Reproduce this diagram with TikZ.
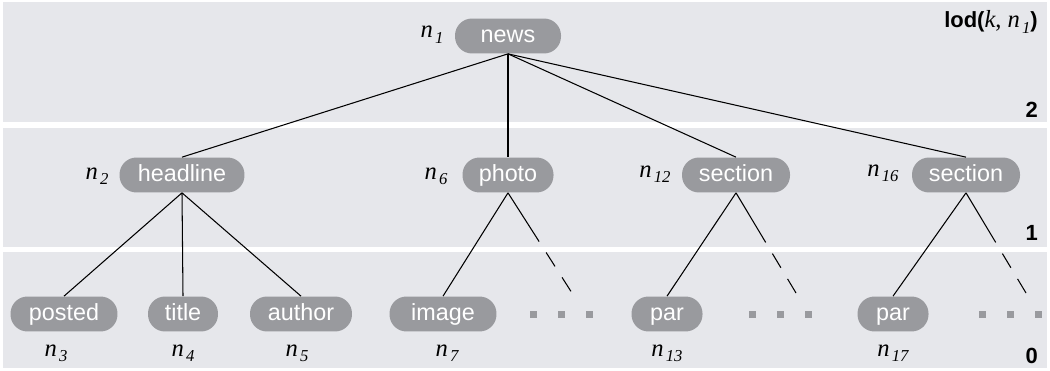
\documentclass[tikz,border=0pt]{standalone}
\usepackage{fontspec}
\setmainfont{Liberation Serif}
\setsansfont{Liberation Sans}
\definecolor{bandgray}{RGB}{230,231,235}
\definecolor{pillgray}{RGB}{153,154,158}
\newcommand{\nlab}[1]{\textit{n}\kern1.2pt\raisebox{-0.45ex}{\fontsize{9.5}{9.5}\selectfont\itshape #1}}
\tikzset{
  pill/.style={rectangle, rounded corners=0.34cm, minimum height=0.7cm, inner sep=0pt,
    text height=9.4pt, text depth=2.2pt,
    fill=pillgray, text=white, font=\sffamily\fontsize{13.3}{13.3}\selectfont},
  lab/.style={anchor=base, font=\fontsize{14}{14}\selectfont},
  level/.style={anchor=base east, font=\sffamily\bfseries\fontsize{12.5}{12.5}\selectfont},
  edge/.style={line width=0.6pt},
  cut/.style={line width=0.6pt, dash pattern=on 32.9pt off 7.4pt on 9.4pt off 7.4pt on 9.4pt}
}
\begin{document}
\begin{tikzpicture}[x=0.02cm, y=-0.02cm]
\useasboundingbox (0,0) rectangle (1050,371);
% levels
\fill [bandgray] (3,2) rectangle (1047,122);
\fill [bandgray] (3,128) rectangle (1047,247);
\fill [bandgray] (3,252) rectangle (1047,368);
\node [level] (lod) at (1044,28) {lod(\textnormal{\fontsize{14}{14}\selectfont\textit{k}, \nlab{1}})};
\node [level] (lev2) at (1044,118) {2};
\node [level] (lev1) at (1044,240) {1};
\node [level] (lev0) at (1044,363) {0};

\node [pill, minimum width=2.12cm] (n1) at (508,36) {news};
\node [pill, minimum width=2.5cm] (n2) at (182,175) {headline};
\node [pill, minimum width=1.82cm] (n6) at (508,175) {photo};
\node [pill, minimum width=2.16cm] (n12) at (736,175) {section};
\node [pill, minimum width=2.16cm] (n16) at (966,175) {section};
\node [pill, minimum width=2.14cm] (n3) at (64,314) {posted};
\node [pill, minimum width=1.4cm] (n4) at (183,314) {title};
\node [pill, minimum width=2.04cm] (n5) at (301,314) {author};
\node [pill, minimum width=2.14cm] (n7) at (443,314) {image};
\node [pill, minimum width=1.42cm] (n13) at (667,314) {par};
\node [pill, minimum width=1.42cm] (n17) at (893,314) {par};

\node [lab] (l1) at (432,38) {\nlab{1}};
\node [lab] (l2) at (97,179) {\nlab{2}};
\node [lab] (l6) at (436,179) {\nlab{6}};
\node [lab] (l12) at (655,177) {\nlab{12}};
\node [lab] (l16) at (883,176) {\nlab{16}};
\node [lab] (l3) at (56,356) {\nlab{3}};
\node [lab] (l4) at (183,356) {\nlab{4}};
\node [lab] (l5) at (297,356) {\nlab{5}};
\node [lab] (l7) at (447,356) {\nlab{7}};
\node [lab] (l13) at (667,356) {\nlab{13}};
\node [lab] (l17) at (893,356) {\nlab{17}};

\draw [edge] (n1.south) -- (n2.north);
\draw [edge] (n1.south) -- (n6.north);
\draw [edge] (n1.south) -- (n12.north);
\draw [edge] (n1.south) -- (n16.north);
\draw [edge] (n2.south) -- (n3.north);
\draw [edge] (n2.south) -- (n4.north);
\draw [edge] (n2.south) -- (n5.north);
\draw [edge] (n6.south) -- (n7.north);
\draw [edge] (n12.south) -- (n13.north);
\draw [edge] (n16.south) -- (n17.north);

% cut off subtrees
\coordinate (c6) at (572,293);
\coordinate (c12) at (796,293);
\coordinate (c16) at (1026,293);
\draw [cut] (n6.south) -- (c6);
\draw [cut] (n12.south) -- (c12);
\draw [cut] (n16.south) -- (c16);
\foreach \x in {533,561,589,752,780,808,982,1010,1038}
  \fill [pillgray] (\x-3.5,310.5) rectangle ++(7,7);
\end{tikzpicture}
\end{document}
